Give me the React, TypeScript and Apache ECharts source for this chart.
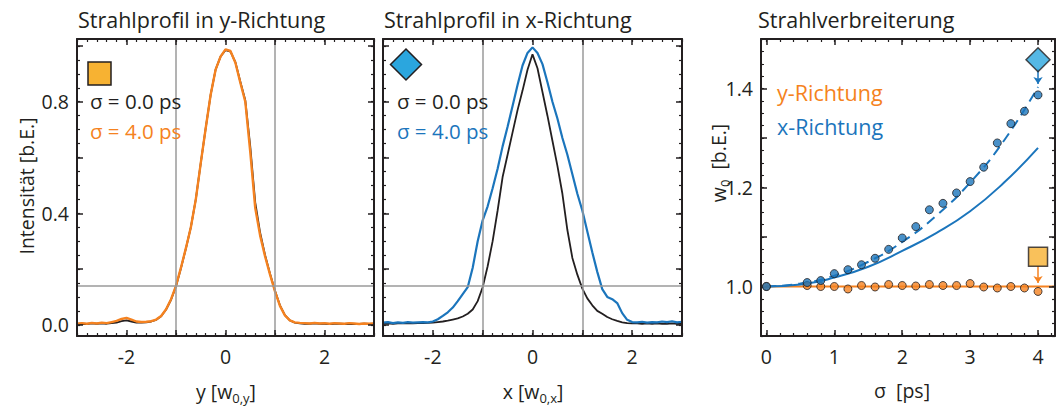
import React, { useEffect, useRef } from "react";
import * as echarts from "echarts";

// ---------- data ----------
const profileX = [-3.0, -2.9, -2.8, -2.7, -2.6, -2.5, -2.4, -2.3, -2.2, -2.1, -2.0, -1.9, -1.8, -1.7, -1.6, -1.5, -1.4, -1.3, -1.2, -1.1, -1.0, -0.9, -0.8, -0.7, -0.6, -0.5, -0.4, -0.3, -0.2, -0.1, 0.0, 0.1, 0.2, 0.3, 0.4, 0.5, 0.6, 0.7, 0.8, 0.9, 1.0, 1.1, 1.2, 1.3, 1.4, 1.5, 1.6, 1.7, 1.8, 1.9, 2.0, 2.1, 2.2, 2.3, 2.4, 2.5, 2.6, 2.7, 2.8, 2.9, 3.0];

const yProfileSigma0 = [0.003, 0.004, 0.003, 0.005, 0.004, 0.005, 0.004, 0.006, 0.008, 0.013, 0.016, 0.012, 0.008, 0.008, 0.009, 0.012, 0.018, 0.031, 0.055, 0.09, 0.138, 0.203, 0.274, 0.35, 0.45, 0.58, 0.705, 0.825, 0.915, 0.962, 0.985, 0.98, 0.942, 0.872, 0.805, 0.64, 0.44, 0.33, 0.25, 0.183, 0.122, 0.07, 0.035, 0.016, 0.008, 0.005, 0.004, 0.004, 0.005, 0.004, 0.004, 0.003, 0.004, 0.004, 0.003, 0.004, 0.003, 0.003, 0.004, 0.003, 0.004];
const yProfileSigma4 = [0.004, 0.006, 0.004, 0.007, 0.005, 0.008, 0.006, 0.01, 0.014, 0.021, 0.025, 0.019, 0.012, 0.01, 0.011, 0.013, 0.019, 0.032, 0.056, 0.092, 0.14, 0.205, 0.275, 0.35, 0.45, 0.58, 0.705, 0.825, 0.915, 0.962, 0.988, 0.982, 0.94, 0.868, 0.8, 0.62, 0.42, 0.32, 0.245, 0.18, 0.12, 0.068, 0.034, 0.016, 0.009, 0.007, 0.006, 0.005, 0.007, 0.005, 0.006, 0.004, 0.006, 0.005, 0.004, 0.006, 0.005, 0.003, 0.005, 0.004, 0.005];

const xProfileSigma0 = [0.004, 0.005, 0.004, 0.005, 0.005, 0.006, 0.005, 0.006, 0.006, 0.007, 0.008, 0.01, 0.012, 0.015, 0.019, 0.023, 0.03, 0.04, 0.055, 0.085, 0.135, 0.21, 0.3, 0.41, 0.53, 0.61, 0.69, 0.77, 0.84, 0.915, 0.97, 0.92, 0.835, 0.75, 0.66, 0.57, 0.47, 0.34, 0.24, 0.18, 0.13, 0.095, 0.07, 0.05, 0.04, 0.028, 0.02, 0.014, 0.009, 0.006, 0.005, 0.005, 0.004, 0.005, 0.004, 0.005, 0.004, 0.004, 0.005, 0.004, 0.004];
const xProfileSigma4 = [0.008, 0.01, 0.006, 0.009, 0.007, 0.01, 0.008, 0.009, 0.01, 0.009, 0.012, 0.02, 0.032, 0.045, 0.062, 0.085, 0.11, 0.135, 0.205, 0.3, 0.375, 0.425, 0.49, 0.56, 0.64, 0.71, 0.785, 0.86, 0.93, 0.975, 0.995, 0.975, 0.935, 0.87, 0.8, 0.74, 0.67, 0.61, 0.54, 0.47, 0.41, 0.335, 0.26, 0.19, 0.128, 0.1, 0.092, 0.078, 0.042, 0.018, 0.01, 0.009, 0.011, 0.008, 0.01, 0.009, 0.012, 0.01, 0.013, 0.009, 0.011];

const sigmaPoints = [0, 0.6, 0.8, 1.0, 1.2, 1.4, 1.6, 1.8, 2.0, 2.2, 2.4, 2.6, 2.8, 3.0, 3.2, 3.4, 3.6, 3.8, 4.0];
const widthYRichtung = [1.0, 1.002, 1.0, 1.0, 0.995, 1.002, 0.999, 1.004, 1.002, 1.001, 1.004, 1.002, 1.002, 1.006, 0.999, 0.997, 1.0, 0.997, 0.99];
const widthXRichtung = [1.0, 1.008, 1.012, 1.026, 1.034, 1.044, 1.057, 1.075, 1.098, 1.121, 1.155, 1.168, 1.189, 1.212, 1.241, 1.29, 1.329, 1.354, 1.387];

const sigmaFit = [0, 0.5, 1.0, 1.5, 2.0, 2.5, 3.0, 3.5, 4.0];
const fitXSolid = [1.0, 1.004, 1.018, 1.04, 1.072, 1.108, 1.152, 1.21, 1.28];
const fitXDashed = [1.0, 1.006, 1.022, 1.05, 1.09, 1.143, 1.21, 1.295, 1.403];
const fitYSigma = [0, 4.25];
const fitYWidth = [1.0, 1.0];

const markerSigma = 4.0;
const diamondWidth = 1.458;
const diamondArrow = [1.44, 1.409];
const squareWidth = 1.06;
const squareArrow = [1.041, 1.007];

const refLevel = 0.1353;
const refX = [-1, 1];

// ticks
const profXMajor = [-3, -2, -1, 0, 1, 2, 3];
const profXMinor = [-3, -2.8, -2.6, -2.4, -2.2, -2, -1.8, -1.6, -1.4, -1.2, -1, -0.8, -0.6, -0.4, -0.2, 0, 0.2, 0.4, 0.6, 0.8, 1, 1.2, 1.4, 1.6, 1.8, 2, 2.2, 2.4, 2.6, 2.8, 3];
const profXLabels = [-2, 0, 2];
const profYMajor = [0, 0.2, 0.4, 0.6, 0.8, 1.0];
const profYMinor = [0, 0.05, 0.1, 0.15, 0.2, 0.25, 0.3, 0.35, 0.4, 0.45, 0.5, 0.55, 0.6, 0.65, 0.7, 0.75, 0.8, 0.85, 0.9, 0.95, 1.0];
const profYLabels = [0, 0.4, 0.8];
const sigXMajor = [0, 1, 2, 3, 4];
const sigXMinor = [0, 0.2, 0.4, 0.6, 0.8, 1, 1.2, 1.4, 1.6, 1.8, 2, 2.2, 2.4, 2.6, 2.8, 3, 3.2, 3.4, 3.6, 3.8, 4, 4.2];
const sigXLabels = [0, 1, 2, 3, 4];
const wYMajor = [0.9, 1.0, 1.1, 1.2, 1.3, 1.4, 1.5];
const wYMinor = [0.9, 0.925, 0.95, 0.975, 1.0, 1.025, 1.05, 1.075, 1.1, 1.125, 1.15, 1.175, 1.2, 1.225, 1.25, 1.275, 1.3, 1.325, 1.35, 1.375, 1.4, 1.425, 1.45, 1.475, 1.5];
const wYLabels = [1.0, 1.2, 1.4];

// ---------- styles ----------
const FONT = "'Open Sans', sans-serif";
const INK = "#231f20";
const GRAY = "#9a9a9a";
const ORANGE = "#f58220";
const BLUE = "#1b75bc";
const SQUARE_FILL = "#f7b232";
const DIAMOND_FILL = "#2ba6de";
const TICK_FONT = 19.5;
const NAME_FONT = 19.5;

const zip = (a: number[], b: number[]) => a.map((v, i) => [v, b[i]]);

function axisSet(gridIndex: number, dim: "x" | "y", min: number, max: number, major: number[], minor: number[], labels: number[] | null, fmt: (v: number) => string) {
  const pos = dim === "x" ? ["bottom", "top"] : ["left", "right"];
  const out: any[] = [];
  pos.forEach((p, k) => {
    const base = { type: "value", gridIndex, min, max, position: p, splitLine: { show: false }, minorTick: { show: false }, z: 5 };
    out.push({
      ...base,
      axisLine: { show: true, onZero: false, lineStyle: { color: INK, width: 2 } },
      axisTick: { show: true, inside: true, length: 6, customValues: major, lineStyle: { color: INK, width: 1.5 } },
      axisLabel: k === 0 && labels
        ? { show: true, customValues: labels, formatter: (v: number) => fmt(v), color: INK, fontSize: TICK_FONT, fontFamily: FONT, margin: dim === "x" ? 10 : 8 }
        : { show: false },
    });
    out.push({
      ...base,
      axisLine: { show: false, onZero: false },
      axisTick: { show: true, inside: true, length: 3, customValues: minor, lineStyle: { color: INK, width: 1.2 } },
      axisLabel: { show: false },
    });
  });
  return out;
}

const fmtInt = (v: number) => String(Math.round(v));
const fmt1 = (v: number) => v.toFixed(1);

const subRich = {
  b: { fontSize: NAME_FONT, fontFamily: FONT, color: INK, verticalAlign: "middle" },
  s: { fontSize: 13, fontFamily: FONT, color: INK, verticalAlign: "middle", padding: [14, 0, 0, 0] },
};

export default function App() {
  const ref = useRef<HTMLDivElement>(null);
  useEffect(() => {
    if (!ref.current) return;
    const chart = echarts.init(ref.current, undefined, { renderer: "svg" });
    const grids = [
      { left: 77, top: 39, width: 297, height: 297 },
      { left: 383, top: 39, width: 299, height: 297 },
      { left: 761, top: 39, width: 294, height: 297 },
    ].map((g) => ({ ...g, show: false, containLabel: false }));

    const xAxes = [
      ...axisSet(0, "x", -3, 3, profXMajor, profXMinor, profXLabels, fmtInt),
      ...axisSet(1, "x", -3, 3, profXMajor, profXMinor, profXLabels, fmtInt),
      ...axisSet(2, "x", -0.08, 4.25, sigXMajor, sigXMinor, sigXLabels, fmtInt),
    ];
    const yAxes = [
      ...axisSet(0, "y", -0.04, 1.025, profYMajor, profYMinor, profYLabels, fmt1),
      ...axisSet(1, "y", -0.04, 1.025, profYMajor, profYMinor, null, fmt1),
      ...axisSet(2, "y", 0.9, 1.5, wYMajor, wYMinor, wYLabels, fmt1),
    ];

    const refMarkLine = {
      silent: true,
      symbol: ["none", "none"],
      label: { show: false },
      lineStyle: { color: GRAY, width: 1.5, type: "solid" },
      data: [...refX.map((v) => ({ xAxis: v })), { yAxis: refLevel }],
    };

    const lineBase = { type: "line", showSymbol: false, symbol: "none", silent: true };

    const series: any[] = [
      // panel 1
      { ...lineBase, name: "refY", xAxisIndex: 0, yAxisIndex: 0, data: [], z: 1, markLine: refMarkLine },
      { ...lineBase, name: "y σ=0", xAxisIndex: 0, yAxisIndex: 0, z: 3, data: zip(profileX, yProfileSigma0), lineStyle: { color: INK, width: 1.8 } },
      { ...lineBase, name: "y σ=4", xAxisIndex: 0, yAxisIndex: 0, z: 4, data: zip(profileX, yProfileSigma4), lineStyle: { color: ORANGE, width: 2.4 } },
      // panel 2
      { ...lineBase, name: "refX", xAxisIndex: 4, yAxisIndex: 4, data: [], z: 1, markLine: refMarkLine },
      { ...lineBase, name: "x σ=0", xAxisIndex: 4, yAxisIndex: 4, z: 3, data: zip(profileX, xProfileSigma0), lineStyle: { color: INK, width: 1.8 } },
      { ...lineBase, name: "x σ=4", xAxisIndex: 4, yAxisIndex: 4, z: 4, data: zip(profileX, xProfileSigma4), lineStyle: { color: BLUE, width: 2.2 } },
      // panel 3
      { ...lineBase, name: "fitY", xAxisIndex: 8, yAxisIndex: 8, z: 2, data: zip(fitYSigma, fitYWidth), lineStyle: { color: ORANGE, width: 2 } },
      { ...lineBase, name: "fitXSolid", xAxisIndex: 8, yAxisIndex: 8, z: 2, smooth: true, data: zip(sigmaFit, fitXSolid), lineStyle: { color: BLUE, width: 2 } },
      { ...lineBase, name: "fitXDashed", xAxisIndex: 8, yAxisIndex: 8, z: 2, smooth: true, data: zip(sigmaFit, fitXDashed), lineStyle: { color: BLUE, width: 2, type: [10, 6] } },
      { type: "scatter", name: "y-Richtung", xAxisIndex: 8, yAxisIndex: 8, z: 5, silent: true, symbol: "circle", symbolSize: 8, data: zip(sigmaPoints, widthYRichtung), itemStyle: { color: ORANGE, borderColor: INK, borderWidth: 1 } },
      { type: "scatter", name: "x-Richtung", xAxisIndex: 8, yAxisIndex: 8, z: 5, silent: true, symbol: "circle", symbolSize: 8, data: zip(sigmaPoints, widthXRichtung), itemStyle: { color: BLUE, borderColor: INK, borderWidth: 1 } },
      {
        type: "scatter", name: "diamond", xAxisIndex: 8, yAxisIndex: 8, z: 6, silent: true, symbol: "diamond", symbolSize: [24, 24],
        data: [[markerSigma, diamondWidth]], itemStyle: { color: DIAMOND_FILL, borderColor: INK, borderWidth: 1.5 },
        markLine: { silent: true, symbol: ["none", "arrow"], symbolSize: [7, 7], label: { show: false }, lineStyle: { color: BLUE, width: 1.5, type: "solid" },
          data: [[{ coord: [markerSigma, diamondArrow[0]] }, { coord: [markerSigma, diamondArrow[1]] }]] },
      },
      {
        type: "scatter", name: "square", xAxisIndex: 8, yAxisIndex: 8, z: 6, silent: true, symbol: "rect", symbolSize: [19, 19],
        data: [[markerSigma, squareWidth]], itemStyle: { color: SQUARE_FILL, borderColor: INK, borderWidth: 1.5 },
        markLine: { silent: true, symbol: ["none", "arrow"], symbolSize: [7, 7], label: { show: false }, lineStyle: { color: ORANGE, width: 1.5, type: "solid" },
          data: [[{ coord: [markerSigma, squareArrow[0]] }, { coord: [markerSigma, squareArrow[1]] }]] },
      },
    ];

    const txt = (x: number, y: number, text: string, color: string, fontSize: number, extra: any = {}) => ({
      type: "text", x, y, silent: true, z: 10,
      style: { text, fill: color, fontSize, fontFamily: FONT, align: "left", verticalAlign: "middle", ...extra },
    });

    const graphic: any[] = [
      txt(78, 19.5, "Strahlprofil in y-Richtung", INK, 21.5),
      txt(384, 19.5, "Strahlprofil in x-Richtung", INK, 21.5),
      txt(758, 19.5, "Strahlverbreiterung", INK, 21.5),
      { type: "rect", silent: true, z: 10, shape: { x: 88, y: 62, width: 23, height: 23 }, style: { fill: SQUARE_FILL, stroke: INK, lineWidth: 1.5 } },
      { type: "polygon", silent: true, z: 10, shape: { points: [[406, 49], [421.5, 64.5], [406, 80], [390.5, 64.5]] }, style: { fill: DIAMOND_FILL, stroke: INK, lineWidth: 1.5 } },
      txt(90, 101, "σ = 0.0 ps", INK, 20.5),
      txt(90, 131, "σ = 4.0 ps", ORANGE, 20.5),
      txt(397, 101, "σ = 0.0 ps", INK, 20.5),
      txt(397, 131, "σ = 4.0 ps", BLUE, 20.5),
      txt(777, 92.5, "y-Richtung", ORANGE, 21.5),
      txt(777, 126, "x-Richtung", BLUE, 21.5),
      { type: "text", x: 26, y: 186, rotation: Math.PI / 2, silent: true, z: 10,
        style: { text: "Intensität [b.E.]", fill: INK, fontSize: NAME_FONT, fontFamily: FONT, align: "center", verticalAlign: "middle" } },
      { type: "text", x: 718, y: 163, rotation: Math.PI / 2, silent: true, z: 10,
        style: { text: "{b|w}{s|0}{b|  [b.E.]}", rich: subRich, fill: INK, fontSize: NAME_FONT, fontFamily: FONT, align: "center", verticalAlign: "middle" } },
      { type: "text", x: 226, y: 391, silent: true, z: 10,
        style: { text: "{b|y [w}{s|0,y}{b|]}", rich: subRich, fill: INK, fontSize: NAME_FONT, fontFamily: FONT, align: "center", verticalAlign: "middle" } },
      { type: "text", x: 533, y: 391, silent: true, z: 10,
        style: { text: "{b|x [w}{s|0,x}{b|]}", rich: subRich, fill: INK, fontSize: NAME_FONT, fontFamily: FONT, align: "center", verticalAlign: "middle" } },
      { type: "text", x: 902, y: 390, silent: true, z: 10,
        style: { text: "σ  [ps]", fill: INK, fontSize: NAME_FONT, fontFamily: FONT, align: "center", verticalAlign: "middle" } },
    ];

    chart.setOption({
      animation: false,
      backgroundColor: "#ffffff",
      textStyle: { fontFamily: FONT, color: INK },
      grid: grids,
      xAxis: xAxes,
      yAxis: yAxes,
      series,
      graphic,
    });
    return () => chart.dispose();
  }, []);
  return <div ref={ref} style={{ position: "fixed", left: 0, top: 0, width: 1059, height: 407 }} />;
}
